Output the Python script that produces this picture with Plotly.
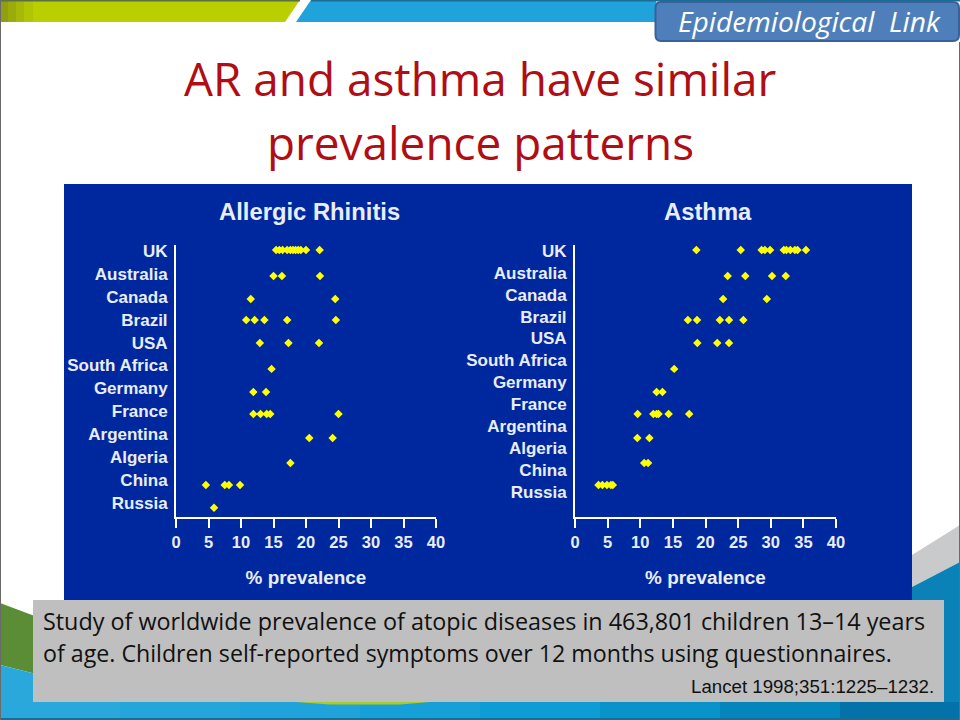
import plotly.graph_objects as go

countries = ["UK", "Australia", "Canada", "Brazil", "USA", "South Africa",
             "Germany", "France", "Argentina", "Algeria", "China", "Russia"]

# dots do not sit exactly on the label rows in the slide
dot_rows = [-0.04, 1.09, 2.1, 3.01, 4.02, 5.15, 6.16, 7.12, 8.17, 9.26, 10.22, 11.22]

rhinitis = [
    [15.4, 15.9, 16.4, 17.1, 17.6, 18.0, 18.4, 18.8, 19.2, 20.0, 22.1],
    [15.0, 16.3, 22.15],
    [11.5, 24.5],
    [10.8, 12.1, 13.6, 17.1, 24.6],
    [12.9, 17.3, 22.0],
    [14.7],
    [11.9, 13.85],
    [11.9, 13.0, 13.95, 14.5, 25.0],
    [20.5, 24.1],
    [17.6],
    [4.6, 7.5, 8.15, 9.85],
    [5.85],
]

# only 11 rows of dots are visible in the asthma panel
asthma = [
    [18.6, 25.4, 28.6, 29.1, 29.9, 32.0, 32.4, 33.0, 33.7, 34.1, 35.4],
    [23.4, 26.1, 30.2, 32.3],
    [22.7, 29.4],
    [17.3, 18.7, 22.2, 23.6, 25.8],
    [18.75, 21.8, 23.6],
    [15.2],
    [12.5, 13.4],
    [9.6, 12.0, 12.5, 12.8, 14.35, 17.5],
    [9.55, 11.4],
    [10.6, 11.2],
    [3.6, 4.2, 4.9, 5.5, 5.8],
]

x_ticks = list(range(0, 45, 5))
asthma_label_step = 0.956

W, H = 960, 720
TXT = "#e9edf8"


def fx(px):
    return px / W


def fy(py):
    return 1 - py / H


def rect(x0, y0, x1, y1, color, line=None, width=0):
    return dict(type="rect", xref="paper", yref="paper", layer="below",
                x0=fx(x0), y0=fy(y0), x1=fx(x1), y1=fy(y1), fillcolor=color,
                line=dict(color=line or color, width=width))


def poly(points, color):
    path = "M " + " L ".join(f"{fx(a):.5f},{fy(b):.5f}" for a, b in points) + " Z"
    return dict(type="path", xref="paper", yref="paper", layer="below", path=path,
                fillcolor=color, line=dict(color=color, width=0))


def note(text, px, py, size, color, anchor="center", family="Open Sans", **kw):
    return dict(text=text, xref="paper", yref="paper", x=fx(px), y=fy(py), showarrow=False,
                xanchor=anchor, yanchor="middle", font=dict(size=size, color=color, family=family), **kw)


def rows_xy(values):
    xs, ys = [], []
    for row, vals in zip(dot_rows, values):
        xs += vals
        ys += [row] * len(vals)
    return xs, ys


shapes = []
# top bar
shapes.append(poly([(0, 0), (300, 0), (285, 22), (0, 22)], "#b9cf00"))
for i, c in enumerate(["#8f9f10", "#9aac0c", "#a6b908", "#b0c504"]):
    shapes.append(rect(i * 8, 0, (i + 1) * 8 + 1, 22, c))
shapes.append(poly([(311, 0), (656, 0), (656, 22), (296, 22)], "#1fa3da"))
shapes.append(rect(0, 0, 300, 1.5, "#5c7040"))
shapes.append(rect(311, 0, 960, 1.5, "#1b6d96"))

# bottom corners
shapes.append(poly([(0, 603), (40, 618), (40, 675), (0, 665)], "#5b8c36"))
shapes.append(poly([(0, 665), (40, 675), (40, 720), (0, 720)], "#2aa8dc"))
shapes.append(poly([(912, 555), (960, 525), (960, 562), (912, 587)], "#c9cacc"))
shapes.append(poly([(912, 587), (960, 562), (960, 720), (912, 720)], "#0a82b8"))
band = ["#2aa8dc", "#25a6db", "#1fa3da", "#16a0d8", "#0e9cd4", "#0894ca", "#0485bb", "#0272a8"]
for i, c in enumerate(band):
    shapes.append(rect(i * 120, 702, (i + 1) * 120 + 1, 720, c))
shapes.append(poly([(295, 702), (430, 702), (400, 704.5), (330, 704.5)], "#a9cc2a"))
shapes.append(rect(0, 718, 960, 720, "#1b6d96"))
shapes.append(rect(0, 0, 1, 720, "#6a6a6a"))
shapes.append(rect(959, 42, 960, 720, "#6a6a6a"))

# panel, text box
shapes.append(rect(64, 184, 912, 600, "#00289e"))
shapes.append(rect(33, 600, 944, 702, "#bfbfbf"))

# badge with round corners
shapes.append(dict(type="path", xref="paper", yref="paper", layer="below",
                   path="M {},{} L {},{} Q {},{} {},{} L {},{} Q {},{} {},{} L {},{} Q {},{} {},{} L {},{} Q {},{} {},{} Z".format(
                       fx(661), fy(2), fx(953), fy(2), fx(959), fy(2), fx(959), fy(8),
                       fx(959), fy(35), fx(959), fy(41), fx(953), fy(41),
                       fx(661), fy(41), fx(655.5), fy(41), fx(655.5), fy(35),
                       fx(655.5), fy(8), fx(655.5), fy(2), fx(661), fy(2)),
                   fillcolor="#4f7fbb", line=dict(color="#38619c", width=2)))

fig = go.Figure()
for values, xa, ya in [(rhinitis, "x", "y"), (asthma, "x2", "y2")]:
    xs, ys = rows_xy(values)
    fig.add_trace(go.Scatter(x=xs, y=ys, mode="markers", xaxis=xa, yaxis=ya, showlegend=False,
                             marker=dict(symbol="diamond", size=6.5, color="#ffff00")))

x_style = dict(range=[0, 40], tickvals=x_ticks, showgrid=False, zeroline=False, showline=True,
               linecolor="white", linewidth=2, ticks="outside", ticklen=9, tickwidth=2, tickcolor="white",
               tickfont=dict(family="Liberation Sans", size=16.5, color=TXT, weight="bold"),
               title=dict(text="% prevalence", standoff=21,
                          font=dict(family="Liberation Sans", size=18.9, color=TXT, weight="bold")))
y_style = dict(range=[11.62, -0.262], showgrid=False, zeroline=False, showline=True,
               linecolor="white", linewidth=2, ticks="outside", ticklen=3, tickcolor="rgba(0,0,0,0)",
               tickfont=dict(family="Liberation Sans", size=17, color=TXT, weight="bold"))

fig.update_layout(
    width=W, height=H, margin=dict(l=0, r=0, t=0, b=0, autoexpand=False),
    paper_bgcolor="white", plot_bgcolor="rgba(0,0,0,0)",
    shapes=shapes,
    xaxis=dict(domain=[fx(176), fx(436)], anchor="y", **x_style),
    yaxis=dict(domain=[fy(517), fy(245)], anchor="x", tickvals=list(range(12)), ticktext=countries, **y_style),
    xaxis2=dict(domain=[fx(575), fx(836)], anchor="y2", **x_style),
    yaxis2=dict(domain=[fy(517), fy(245)], anchor="x2",
                tickvals=[i * asthma_label_step for i in range(12)], ticktext=countries, **y_style),
    annotations=[
        note("Epidemiological\u00a0 Link", 809, 21, 28.2, "white"),
        note("AR and asthma have similar", 480, 78, 45.9, "#b00d14"),
        note("prevalence patterns", 480, 142, 45.9, "#b00d14"),
        note("<b>Allergic Rhinitis</b>", 309.5, 211, 23.8, TXT, family="Liberation Sans"),
        note("<b>Asthma</b>", 708, 211, 23.8, TXT, family="Liberation Sans"),
        note("Study of worldwide prevalence of atopic diseases in 463,801 children 13\u201314 years",
             41, 621, 23.35, "#111111", anchor="left"),
        note("of age. Children self-reported symptoms over 12 months using questionnaires.",
             41, 653, 23.2, "#111111", anchor="left"),
        note("Lancet 1998;351:1225\u20131232.", 936, 686, 18.7, "#111111", anchor="right", family="Liberation Sans"),
    ],
)
fig.layout.annotations[0].font.style = "italic"

fig.write_html("out.html", config=dict(displayModeBar=False), post_script="document.body.style.margin='0';")
